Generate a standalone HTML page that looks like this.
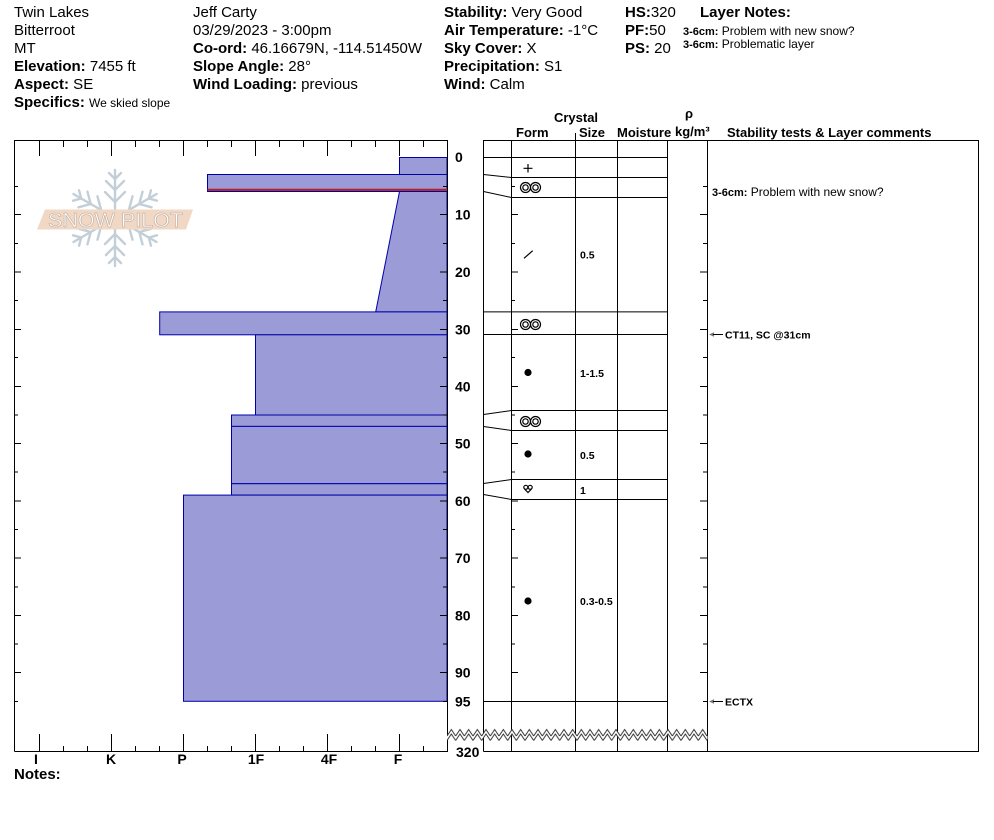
<!DOCTYPE html>
<html><head><meta charset="utf-8"><style>
html,body{margin:0;padding:0;background:#fff;}
svg{display:block;}
text{font-family:"Liberation Sans",Arial,sans-serif;}
.b{font-weight:bold;}
</style></head><body>
<svg width="994" height="840" viewBox="0 0 994 840" xmlns="http://www.w3.org/2000/svg">
<defs>
<pattern id="zz" patternUnits="userSpaceOnUse" x="447" y="728" width="8.6667" height="14">
<polygon points="-0.5,8 4.333,1.5 9.2,8 9.2,12.5 4.333,6 -0.5,12.5" fill="#fff"/>
<path d="M0 8L4.333 1.5 8.6667 8M0 12.5L4.333 6 8.6667 12.5" fill="none" stroke="#333" stroke-width="1"/>
</pattern>
</defs>
<rect width="994" height="840" fill="#fff"/>

<!-- Header -->
<g font-size="15" fill="#000">
<text x="14" y="17">Twin Lakes</text>
<text x="14" y="35">Bitterroot</text>
<text x="14" y="53">MT</text>
<text x="14" y="71"><tspan class="b">Elevation:</tspan> 7455 ft</text>
<text x="14" y="89"><tspan class="b">Aspect:</tspan> SE</text>
<text x="14" y="107"><tspan class="b">Specifics:</tspan> <tspan font-size="12">We skied slope</tspan></text>

<text x="193" y="17">Jeff Carty</text>
<text x="193" y="35">03/29/2023 - 3:00pm</text>
<text x="193" y="53"><tspan class="b">Co-ord:</tspan> 46.16679N, -114.51450W</text>
<text x="193" y="71"><tspan class="b">Slope Angle:</tspan> 28°</text>
<text x="193" y="89"><tspan class="b">Wind Loading:</tspan> previous</text>

<text x="444" y="17"><tspan class="b">Stability:</tspan> Very Good</text>
<text x="444" y="35"><tspan class="b">Air Temperature:</tspan> -1°C</text>
<text x="444" y="53"><tspan class="b">Sky Cover:</tspan> X</text>
<text x="444" y="71"><tspan class="b">Precipitation:</tspan> S1</text>
<text x="444" y="89"><tspan class="b">Wind:</tspan>  Calm</text>

<text x="625" y="17"><tspan class="b">HS:</tspan>320</text>
<text x="625" y="35"><tspan class="b">PF:</tspan>50</text>
<text x="625" y="53"><tspan class="b">PS:</tspan> 20</text>
<text x="700" y="17" class="b">Layer Notes:</text>
</g>
<text x="683" y="35" font-size="12" fill="#000"><tspan class="b" font-size="11">3-6cm:</tspan>  Problem with new snow?</text>
<text x="683" y="48" font-size="12" fill="#000"><tspan class="b" font-size="11">3-6cm:</tspan> Problematic layer</text>

<!-- Column headers -->
<g font-size="13" font-weight="bold" fill="#000">
<text x="576" y="122" text-anchor="middle">Crystal</text>
<text x="516" y="137">Form</text>
<text x="579" y="137">Size</text>
<text x="617" y="137">Moisture</text>
<text x="685" y="118">ρ</text>
<text x="675" y="136">kg/m³</text>
<text x="727" y="137">Stability tests &amp; Layer comments</text>
</g>

<!-- Logo -->
<g stroke="#c3cfd8" stroke-width="2.4" stroke-linecap="round" fill="none">
<g transform="translate(115,218)">
<g id="arm">
<line x1="0" y1="0" x2="0" y2="-48"/>
<line x1="0" y1="-16" x2="-10" y2="-26"/><line x1="0" y1="-16" x2="10" y2="-26"/>
<line x1="0" y1="-28" x2="-9" y2="-37"/><line x1="0" y1="-28" x2="9" y2="-37"/>
<line x1="0" y1="-39" x2="-6" y2="-45"/><line x1="0" y1="-39" x2="6" y2="-45"/>
</g>
<use href="#arm" transform="rotate(60)"/>
<use href="#arm" transform="rotate(120)"/>
<use href="#arm" transform="rotate(180)"/>
<use href="#arm" transform="rotate(240)"/>
<use href="#arm" transform="rotate(300)"/>
</g>
</g>
<polygon points="45,209.5 193,209.5 186,229.5 37,229.5" fill="#f1d8c5"/>
<text x="48" y="227" font-size="20" textLength="135" lengthAdjust="spacingAndGlyphs" style="fill:#ffffff;stroke:#c8b4a6;stroke-width:0.7">SNOW PILOT</text>

<!-- Hardness bars -->
<g fill="#9b9bd7" stroke="#0000aa" stroke-width="1">
<rect x="399.5" y="157.5" width="47.5" height="17"/>
<rect x="207.5" y="174.5" width="239.5" height="17"/>
<polygon points="399.5,191.5 447,191.5 447,311.9 375.7,311.9"/>
<rect x="159.7" y="311.9" width="287.3" height="22.9"/>
<rect x="255.5" y="334.8" width="191.5" height="80.2"/>
<rect x="231.5" y="415" width="215.5" height="11.4"/>
<rect x="231.5" y="426.4" width="215.5" height="57.3"/>
<rect x="231.5" y="483.7" width="215.5" height="11.4"/>
<rect x="183.5" y="495.1" width="263.5" height="206.2"/>
</g>
<line x1="207.5" y1="189.8" x2="448" y2="189.8" stroke="#b22222" stroke-width="2.2"/>

<!-- Left chart frame -->
<g stroke="#000" stroke-width="1" fill="none">
<path d="M14.5 751.5V140.5H447.5V751.5H14.5"/>
<path d="M39.5 140V156M111.5 140V156M183.5 140V156M255.5 140V156M327.5 140V156M399.5 140V156"/>
<path d="M63.5 140V147M87.5 140V147M135.5 140V147M159.5 140V147M207.5 140V147M231.5 140V147M279.5 140V147M303.5 140V147M351.5 140V147M375.5 140V147M423.5 140V147"/>
<path d="M39.5 751V734M111.5 751V734M183.5 751V734M255.5 751V734M327.5 751V734M399.5 751V734"/>
<path d="M63.5 751V746M87.5 751V746M135.5 751V746M159.5 751V746M207.5 751V746M231.5 751V746M279.5 751V746M303.5 751V746M351.5 751V746M375.5 751V746M423.5 751V746"/>
<path d="M14 186.5h4M14 214.5h7M14 243.5h4M14 272h7M14 300.5h4M14 329.5h7M14 357.5h4M14 386.5h7M14 415h4M14 443.5h7M14 472h4M14 501h7M14 529.5h4M14 558h7M14 587h4M14 615.5h7M14 644h4M14 672.5h7M14 701.5h4"/>
<path d="M447 186.5h-4M447 214.5h-7M447 243.5h-4M447 272h-7M447 300.5h-4M447 329.5h-7M447 357.5h-4M447 386.5h-7M447 415h-4M447 443.5h-7M447 472h-4M447 501h-7M447 529.5h-4M447 558h-7M447 587h-4M447 615.5h-7M447 644h-4M447 672.5h-7M447 701.5h-4"/>
</g>

<!-- Right grid -->
<g stroke="#000" stroke-width="1" fill="none">
<path d="M483.5 751.5V140.5H978.5V751.5H483.5"/>
<path d="M511.5 140V751M575.5 140V751M617.5 140V751M667.5 140V751M707.5 140V751"/>
<path d="M575.5 133V140"/>
<path d="M511 186.5h4M511 214.5h7M511 243.5h4M511 272h7M511 300.5h4M511 329.5h7M511 357.5h4M511 386.5h7M511 415h4M511 443.5h7M511 472h4M511 501h7M511 529.5h4M511 558h7M511 587h4M511 615.5h7M511 644h4M511 672.5h7"/>
<path d="M707 186.5h-4M707 214.5h-7M707 243.5h-4M707 272h-7M707 300.5h-4M707 329.5h-7M707 357.5h-4M707 386.5h-7M707 415h-4M707 443.5h-7M707 472h-4M707 501h-7M707 529.5h-4M707 558h-7M707 587h-4M707 615.5h-7M707 644h-4M707 672.5h-7M707 701.5h-4"/>
<path d="M483.5 157.5H667.5"/>
<path d="M483.5 174.5L511.5 177.5H667.5"/>
<path d="M483.5 191.5L511.5 197.5H667.5"/>
<path d="M483.5 311.9H667.5"/>
<path d="M483.5 334.5H667.5"/>
<path d="M483.5 414.5L511.5 410.5H667.5"/>
<path d="M483.5 426.5L511.5 430.5H667.5"/>
<path d="M483.5 483.5L511.5 479.5H667.5"/>
<path d="M483.5 494.5L511.5 499.5H667.5"/>
<path d="M483.5 701.5H667.5"/>
</g>

<!-- Zigzag break -->
<rect x="447" y="728" width="260.5" height="14" fill="url(#zz)"/>

<!-- Depth labels -->
<g font-size="14" font-weight="bold" fill="#000">
<text x="455" y="162">0</text>
<text x="455" y="219.5">10</text>
<text x="455" y="277">20</text>
<text x="455" y="334.5">30</text>
<text x="455" y="391.5">40</text>
<text x="455" y="448.5">50</text>
<text x="455" y="506">60</text>
<text x="455" y="563">70</text>
<text x="455" y="620.5">80</text>
<text x="455" y="677.5">90</text>
<text x="455" y="706.5">95</text>
<text x="456" y="757">320</text>
</g>

<!-- Hardness labels -->
<g font-size="14" font-weight="bold" text-anchor="middle" fill="#000">
<text x="36" y="764">I</text>
<text x="111" y="764">K</text>
<text x="182" y="764">P</text>
<text x="256" y="764">1F</text>
<text x="329" y="764">4F</text>
<text x="398" y="764">F</text>
</g>
<text x="14" y="779" font-size="15" font-weight="bold" fill="#000">Notes:</text>

<!-- Crystal forms -->
<g stroke="#000" stroke-width="1.2" fill="none">
<path d="M528 164V172.5M523.5 168.3H532.5"/>
<circle cx="525.5" cy="187.5" r="5"/><circle cx="525.5" cy="187.5" r="2.7"/>
<circle cx="535.5" cy="187.5" r="5"/><circle cx="535.5" cy="187.5" r="2.7"/>
<path d="M524 258.3L532.7 250.7"/>
<circle cx="525.5" cy="324.5" r="5"/><circle cx="525.5" cy="324.5" r="2.7"/>
<circle cx="535.5" cy="324.5" r="5"/><circle cx="535.5" cy="324.5" r="2.7"/>
<circle cx="525.5" cy="421.5" r="5"/><circle cx="525.5" cy="421.5" r="2.7"/>
<circle cx="535.5" cy="421.5" r="5"/><circle cx="535.5" cy="421.5" r="2.7"/>
<circle cx="525.8" cy="487.3" r="2"/><circle cx="530.2" cy="487.3" r="2"/>
<path d="M524.5 489L528 492.5 531.5 489"/>
</g>
<g fill="#000">
<circle cx="528" cy="372.5" r="3.6"/>
<circle cx="528" cy="454" r="3.6"/>
<circle cx="528" cy="601" r="3.6"/>
</g>

<!-- Sizes -->
<g font-size="10.5" font-weight="bold" fill="#000">
<text x="580" y="258.5">0.5</text>
<text x="580" y="377">1-1.5</text>
<text x="580" y="459">0.5</text>
<text x="580" y="494">1</text>
<text x="580" y="605">0.3-0.5</text>
</g>

<!-- Comments -->
<text x="712" y="196" font-size="12" fill="#000"><tspan font-weight="bold" font-size="11">3-6cm:</tspan>  Problem with new snow?</text>
<polygon points="709,334.5 714,332.3 714,336.7" fill="#777"/>
<line x1="713" y1="334.5" x2="723" y2="334.5" stroke="#000" stroke-width="1"/>
<text x="725" y="338.5" font-size="10.5" font-weight="bold" fill="#000">CT11, SC @31cm</text>
<polygon points="709,701.5 714,699.3 714,703.7" fill="#777"/>
<line x1="713" y1="701.5" x2="723" y2="701.5" stroke="#000" stroke-width="1"/>
<text x="725" y="705.5" font-size="10.5" font-weight="bold" fill="#000">ECTX</text>
</svg>
</body></html>
